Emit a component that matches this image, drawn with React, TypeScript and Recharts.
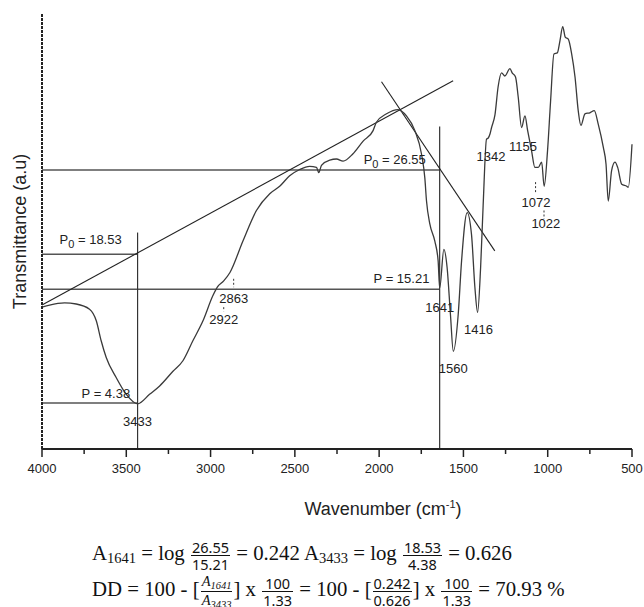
import React from "react";
import { LineChart, Line, XAxis, YAxis, ReferenceLine, ReferenceDot } from "recharts";

// FTIR spectrum (cm-1 / transmittance a.u.)
const wavenumbers = [
  4000, 3955, 3866, 3797, 3718, 3678, 3649, 3619, 3560, 3500, 3433, 3362, 3302, 3223, 3164,
  3105, 3045, 2986, 2960, 2922, 2885, 2808, 2728, 2649, 2590, 2531, 2471, 2412, 2372, 2358,
  2342, 2293, 2253, 2214, 2155, 2095, 2036, 2016, 1956, 1888, 1838, 1788, 1749, 1729, 1719,
  1699, 1670, 1650, 1641, 1616, 1597, 1577, 1560, 1531, 1511, 1478, 1452, 1432, 1416, 1398,
  1383, 1363, 1353, 1342, 1333, 1313, 1294, 1274, 1254, 1224, 1211, 1191, 1175, 1155, 1135,
  1119, 1096, 1076, 1056, 1036, 1021, 1001, 983, 963, 943, 927, 911, 896, 878, 858, 838, 819,
  803, 779, 750, 724, 700, 670, 654, 641, 621, 601, 585, 561, 531, 522, 500,
];
const transmittance = [
  13.5, 13.7, 13.9, 13.8, 13.3, 12.2, 10.3, 8.7, 6.8, 5.2, 4.3, 5.2, 6.0, 7.4, 8.4,
  10.3, 12.2, 14.6, 15.4, 16.0, 16.8, 19.8, 22.7, 24.3, 25.0, 26.0, 26.6, 26.9, 26.8, 26.3,
  27.0, 27.5, 27.6, 27.4, 28.1, 29.3, 30.3, 31.1, 31.9, 32.3, 31.7, 30.3, 28.1, 25.8, 23.6,
  21.4, 19.8, 17.9, 15.3, 19.0, 17.3, 12.8, 9.3, 12.8, 17.9, 22.5, 20.4, 15.4, 13.0, 17.3,
  23.2, 29.5, 29.6, 30.0, 30.6, 31.8, 34.5, 35.8, 35.5, 36.2, 35.8, 35.4, 33.5, 30.6, 31.7,
  30.3, 28.4, 26.8, 26.8, 27.3, 25.0, 28.4, 33.1, 37.6, 37.7, 38.9, 40.2, 39.2, 39.0, 37.6, 35.4, 32.2,
  30.8, 31.9, 32.0, 32.2, 30.9, 28.7, 27.1, 23.6, 26.5, 27.3, 26.8, 25.2, 25.0, 24.9, 29.0,
];

const xTicks = [4000, 3750, 3500, 3250, 3000, 2750, 2500, 2250, 2000, 1750, 1500, 1250, 1000, 750, 500];

// baseline method values
const band1641 = 1641;
const band3433 = 3433;
const p0Amide = 26.55;
const pAmide = 15.21;
const p0Hydroxyl = 18.53;
const pHydroxyl = 4.38;

// tangent (baseline) lines
const tangentOne = [{ x: 4000, y: 13.7 }, { x: 1561, y: 35.05 }];
const tangentTwo = [{ x: 1986, y: 34.95 }, { x: 1314, y: 18.86 }];

const peakMarks = [
  { wn: 2863, y1: 16.2, y2: 15.4 },
  { wn: 2922, y1: 13.5, y2: 13.1 },
  { wn: 1072, y1: 25.4, y2: 24.3 },
  { wn: 1022, y1: 22.7, y2: 21.9 },
];

const data = wavenumbers.map((wn, i) => ({ wn, t: transmittance[i] }));

const SANS = "Arial, 'Liberation Sans', sans-serif";
const INK = "#222";

function WnTick(props: any) {
  const { x, y, payload } = props;
  const major = payload.value % 500 === 0;
  return (
    <g>
      <line x1={x} x2={x} y1={y} y2={y + (major ? 8 : 5)} stroke={INK} strokeWidth={1.5} />
      {major && (
        <text x={x} y={y + 24} textAnchor="middle" fontSize={13} fill={INK} fontFamily={SANS}>
          {payload.value}
        </text>
      )}
    </g>
  );
}

function note(key: string, x: number, y: number, text: React.ReactNode, anchor = "middle") {
  return (
    <ReferenceDot
      key={key}
      x={x}
      y={y}
      r={0}
      shape={(p: any) => (
        <text x={p.cx} y={p.cy} textAnchor={anchor} fontSize={13} fill={INK} fontFamily={SANS}>
          {text}
        </text>
      )}
    />
  );
}

const pZero = (v: number) => (
  <>
    P<tspan fontSize={11} dy={4}>0</tspan>
    <tspan dy={-4}> = {v}</tspan>
  </>
);

function Frac({ top, bottom, italic, sans = true }: { top: React.ReactNode; bottom: React.ReactNode; italic?: boolean; sans?: boolean }) {
  return (
    <span
      style={{
        display: "inline-flex",
        flexDirection: "column",
        alignItems: "center",
        verticalAlign: "middle",
        fontSize: 14.5,
        lineHeight: "16px",
        fontFamily: sans ? "'Noto Sans', sans-serif" : "inherit",
        fontStyle: italic ? "italic" : "normal",
        margin: "0 1px",
      }}
    >
      <span style={{ padding: "0 1px" }}>{top}</span>
      <span style={{ borderTop: "1px solid #111", padding: "0 1px", alignSelf: "stretch", textAlign: "center" }}>{bottom}</span>
    </span>
  );
}

const Sub = ({ children, size = 14.5 }: { children: React.ReactNode; size?: number }) => (
  <span style={{ fontSize: size, position: "relative", top: 3 }}>{children}</span>
);

export default function App() {
  return (
    <div style={{ position: "absolute", left: 0, top: 0, width: 644, height: 607, background: "#fff", overflow: "hidden" }}>
      <LineChart width={644} height={530} data={data} margin={{ top: 14, right: 12, left: 0, bottom: 0 }}>
        <XAxis
          dataKey="wn"
          type="number"
          domain={[500, 4000]}
          reversed
          ticks={xTicks}
          interval={0}
          height={81}
          tickSize={0}
          tickMargin={0}
          tickLine={false}
          tick={<WnTick />}
          axisLine={{ stroke: INK, strokeWidth: 2 }}
          label={{
            position: "insideBottom",
            content: (p: any) => {
              const vb = p.viewBox;
              return (
                <text x={vb.x + vb.width / 2 + 46} y={vb.y + 66} textAnchor="middle" fontSize={18} fill={INK} fontFamily={SANS}>
                  Wavenumber (cm<tspan fontSize={11} dy={-7}>-1</tspan>
                  <tspan dy={7}>)</tspan>
                </text>
              );
            },
          }}
        />
        <YAxis
          type="number"
          domain={[0, 41.4]}
          width={42}
          tick={false}
          tickLine={false}
          axisLine={{ stroke: INK, strokeWidth: 2, strokeDasharray: "3 1" }}
          label={{
            position: "insideLeft",
            content: (p: any) => {
              const vb = p.viewBox;
              const cx = vb.x + 20;
              const cy = vb.y + vb.height / 2;
              return (
                <text x={cx} y={cy} transform={`rotate(-90 ${cx} ${cy})`} textAnchor="middle" dominantBaseline="central" fontSize={18} fill={INK} fontFamily={SANS}>
                  Transmittance (a.u)
                </text>
              );
            },
          }}
        />

        {/* horizontal P / P0 levels */}
        <ReferenceLine segment={[{ x: 4000, y: p0Amide }, { x: band1641, y: p0Amide }]} stroke="#555" strokeWidth={1.4} />
        <ReferenceLine segment={[{ x: 4000, y: pAmide }, { x: band1641, y: pAmide }]} stroke="#555" strokeWidth={1.4} />
        <ReferenceLine segment={[{ x: 4000, y: p0Hydroxyl }, { x: band3433, y: p0Hydroxyl }]} stroke="#555" strokeWidth={1.4} />
        <ReferenceLine segment={[{ x: 4000, y: pHydroxyl }, { x: band3433, y: pHydroxyl }]} stroke="#555" strokeWidth={1.4} />

        {/* vertical band markers */}
        <ReferenceLine segment={[{ x: band3433, y: 0 }, { x: band3433, y: 20.6 }]} stroke="#333" strokeWidth={1.2} />
        <ReferenceLine segment={[{ x: band1641, y: 0 }, { x: band1641, y: 30.7 }]} stroke="#333" strokeWidth={1.2} />

        {/* tangents */}
        <ReferenceLine segment={tangentOne} stroke="#222" strokeWidth={1.1} />
        <ReferenceLine segment={tangentTwo} stroke="#222" strokeWidth={1.1} />

        {peakMarks.map((m) => (
          <ReferenceLine
            key={m.wn}
            segment={[{ x: m.wn, y: m.y1 }, { x: m.wn, y: m.y2 }]}
            stroke="#333"
            strokeDasharray="2 2"
          />
        ))}

        <Line type="monotone" dataKey="t" stroke="#3a3a3a" strokeWidth={1.3} dot={false} isAnimationActive={false} />

        {note("p0h", 3896, 19.5, pZero(p0Hydroxyl), "start")}
        {note("ph", 3765, 4.86, `P = ${pHydroxyl}`, "start")}
        {note("3433", 3433, 2.2, "3433")}
        {note("2863", 2863, 13.9, "2863")}
        {note("2922", 2922, 11.9, "2922")}
        {note("pa", 2033, 15.8, `P = ${pAmide}`, "start")}
        {note("p0a", 2092, 27.1, pZero(p0Amide), "start")}
        {note("1641", 1641, 13.0, "1641")}
        {note("1416", 1411, 10.95, "1416")}
        {note("1560", 1560, 7.24, "1560")}
        {note("1342", 1337, 27.4, "1342")}
        {note("1155", 1146, 28.4, "1155")}
        {note("1072", 1070, 23.05, "1072")}
        {note("1022", 1011, 21.05, "1022")}
      </LineChart>

      <div
        style={{
          position: "absolute",
          left: 92,
          top: 537,
          fontFamily: "'Liberation Serif', 'Times New Roman', serif",
          fontSize: 20.8,
          color: "#111",
          whiteSpace: "pre",
        }}
      >
        <div style={{ height: 36, display: "flex", alignItems: "center" }}>
          <span>
            A<Sub>1641</Sub>{" = log "}<Frac top="26.55" bottom="15.21" />{" = 0.242 A"}<Sub>3433</Sub>{" = log "}
            <Frac top="18.53" bottom="4.38" />{" = 0.626"}
          </span>
        </div>
        <div style={{ height: 36, display: "flex", alignItems: "center" }}>
          <span>
            {"DD = 100 - ["}<Frac italic sans={false} top={<>A<Sub size={10.5}>1641</Sub></>} bottom={<>A<Sub size={10.5}>3433</Sub></>} />{"] x "}
            <Frac top="100" bottom="1.33" />{" = 100 - ["}<Frac top="0.242" bottom="0.626" />{"] x "}<Frac top="100" bottom="1.33" />{" = 70.93 %"}
          </span>
        </div>
      </div>
    </div>
  );
}
